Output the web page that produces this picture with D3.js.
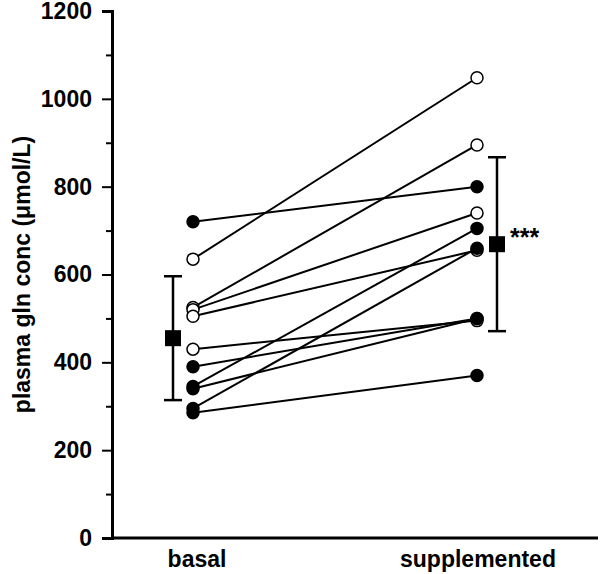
<!DOCTYPE html>
<html>
<head>
<meta charset="utf-8">
<script src="https://cdn.jsdelivr.net/npm/d3@7"></script>
<style>
  body { margin: 0; background: #fff; }
  text { font-family: "Liberation Sans", Arial, sans-serif; font-weight: bold; }
</style>
</head>
<body>
<script>
// data
const groups = ["basal", "supplemented"];
const basalValues = [720, 635, 525, 520, 505, 430, 390, 345, 340, 295, 285];
const suppValues = [800, 1048, 895, 740, 655, 495, 500, 705, 500, 660, 370];
const filledMarker = [true, false, false, false, false, false, true, true, true, true, true];
const groupMeans = [455, 669];
const groupSD = [141, 198];
const yTicks = [0, 200, 400, 600, 800, 1000, 1200];
const yMinorTicks = [100, 300, 500, 700, 900, 1100];
const yLabel = "plasma gln conc (\u03bcmol/L)";
const sigLabel = "***";

const width = 600;
const height = 574;
const margin = { top: 11, right: 2, bottom: 36, left: 112 };
const fontSize = 23;

const svg = d3
  .select("body")
  .append("svg")
  .attr("width", width)
  .attr("height", height);

const y = d3
  .scaleLinear()
  .domain([0, 1200])
  .range([height - margin.bottom, margin.top]);

// category positions
const x = d3.scalePoint().domain(groups).range([193, 477]);

// paired subjects
const pairs = basalValues.map((b, i) => ({
  before: b,
  after: suppValues[i],
  filled: filledMarker[i],
}));

// y axis with major + minor ticks
const yAxis = svg
  .append("g")
  .attr("transform", `translate(${margin.left},0)`)
  .call(
    d3
      .axisLeft(y)
      .tickValues(yTicks)
      .tickFormat(d3.format("d"))
      .tickSize(10)
      .tickPadding(10)
  );
yAxis.select(".domain").attr("stroke-width", 3);
yAxis.selectAll(".tick line").attr("stroke-width", 2);
yAxis
  .selectAll(".tick text")
  .attr("font-size", fontSize)
  .attr("fill", "#000");

svg
  .append("g")
  .attr("transform", `translate(${margin.left},0)`)
  .call(d3.axisLeft(y).tickValues(yMinorTicks).tickSize(6).tickFormat(""))
  .call((g) => g.select(".domain").remove())
  .selectAll(".tick line")
  .attr("stroke-width", 2);

// x axis line
svg
  .append("line")
  .attr("x1", margin.left)
  .attr("x2", width - margin.right)
  .attr("y1", y(0))
  .attr("y2", y(0))
  .attr("stroke", "#000")
  .attr("stroke-width", 3);

svg
  .selectAll("text.xlab")
  .data(groups)
  .join("text")
  .attr("class", "xlab")
  .attr("x", (d) => x(d) + (d === "basal" ? 4 : 1))
  .attr("y", y(0) + 29)
  .attr("text-anchor", "middle")
  .attr("font-size", fontSize)
  .text((d) => d);

// y label
svg
  .append("text")
  .attr("transform", `translate(30,${(y(0) + y(1200)) / 2}) rotate(-90)`)
  .attr("text-anchor", "middle")
  .attr("font-size", 23)
  .text(yLabel);

// connecting lines
svg
  .selectAll("line.pair")
  .data(pairs)
  .join("line")
  .attr("class", "pair")
  .attr("x1", x("basal"))
  .attr("x2", x("supplemented"))
  .attr("y1", (d) => y(d.before))
  .attr("y2", (d) => y(d.after))
  .attr("stroke", "#000")
  .attr("stroke-width", 2);

// points: open first, filled on top
const pts = [];
pairs.forEach((p) => {
  pts.push({ g: "basal", v: p.before, filled: p.filled });
  pts.push({ g: "supplemented", v: p.after, filled: p.filled });
});
pts.sort((a, b) => a.filled - b.filled);

svg
  .selectAll("circle.pt")
  .data(pts)
  .join("circle")
  .attr("class", "pt")
  .attr("cx", (d) => x(d.g))
  .attr("cy", (d) => y(d.v))
  .attr("r", 6)
  .attr("fill", (d) => (d.filled ? "#000" : "#fff"))
  .attr("stroke", "#000")
  .attr("stroke-width", 1.5);

// mean +/- SD
const summary = groups.map((g, i) => ({
  g: g,
  mean: groupMeans[i],
  sd: groupSD[i],
  cx: x(g) + (i === 0 ? -20 : 20),
}));

const sumG = svg.selectAll("g.summary").data(summary).join("g").attr("class", "summary");

sumG
  .append("line")
  .attr("x1", (d) => d.cx)
  .attr("x2", (d) => d.cx)
  .attr("y1", (d) => y(d.mean - d.sd))
  .attr("y2", (d) => y(d.mean + d.sd))
  .attr("stroke", "#000")
  .attr("stroke-width", 2.5);

sumG
  .selectAll("line.cap")
  .data((d) => [
    { cx: d.cx, v: d.mean - d.sd },
    { cx: d.cx, v: d.mean + d.sd },
  ])
  .join("line")
  .attr("class", "cap")
  .attr("x1", (d) => d.cx - 9)
  .attr("x2", (d) => d.cx + 9)
  .attr("y1", (d) => y(d.v))
  .attr("y2", (d) => y(d.v))
  .attr("stroke", "#000")
  .attr("stroke-width", 2.5);

sumG
  .append("rect")
  .attr("x", (d) => d.cx - 8)
  .attr("y", (d) => y(d.mean) - 8)
  .attr("width", 16)
  .attr("height", 16)
  .attr("fill", "#000");

// significance
svg
  .append("text")
  .attr("x", summary[1].cx + 13)
  .attr("y", y(summary[1].mean) + 2)
  .attr("font-size", 25)
  .text(sigLabel);
</script>
</body>
</html>
